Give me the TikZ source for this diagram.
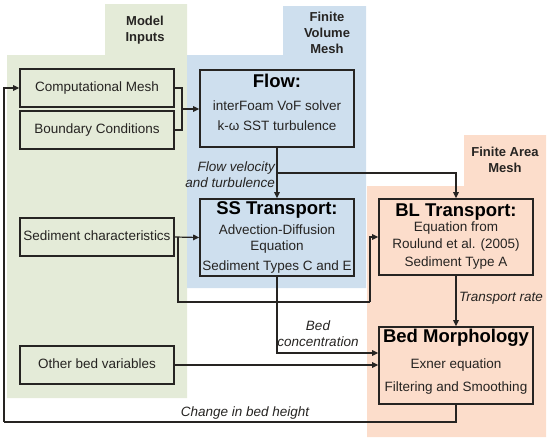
\documentclass[tikz,border=0pt]{standalone}
\usepackage{fontspec}
\setmainfont{Liberation Sans}
\usetikzlibrary{arrows.meta,calc}
\definecolor{grn}{RGB}{228,235,216}
\definecolor{blu}{RGB}{206,223,238}
\definecolor{org}{RGB}{252,221,203}
\definecolor{ink}{RGB}{38,36,34}
\begin{document}
\begin{tikzpicture}[x=1pt,y=-1pt,
  box/.style={draw=ink,line width=1.6pt,minimum width=154pt,inner sep=0pt,anchor=center},
  small/.style={box,minimum height=38pt},
  big/.style={box,minimum height=77pt},
  body/.style={font=\fontsize{13.5}{16}\selectfont,text=ink,inner sep=0pt,text height=9.7pt,text depth=2.8pt,anchor=center},
  ttl/.style={font=\fontsize{18.5}{20}\selectfont\bfseries,text=black,inner sep=0pt,text height=13.3pt,text depth=3.8pt,anchor=center},
  grp/.style={font=\fontsize{13}{16}\selectfont\bfseries,text=ink,inner sep=0pt,align=center,anchor=center},
  lbl/.style={font=\fontsize{13.5}{16}\selectfont\itshape,text=ink,inner sep=0pt},
  conn/.style={draw=ink,line width=1.2pt},
  arr/.style={conn,-{Triangle[length=6pt,width=5.5pt]}}
]
\useasboundingbox (0,0) rectangle (550,442);
% background regions
\fill[grn] (7,55) -- (105,55) -- (105,4) -- (187,4) -- (187,398) -- (7,398) -- cycle;
\fill[blu] (187,55) -- (283,55) -- (283,6) -- (366,6) -- (366,288) -- (187,288) -- cycle;
\fill[org] (367,186) -- (464,186) -- (464,135) -- (546,135) -- (546,437) -- (367,437) -- cycle;
% group labels
\node[grp] (gmi) at (145,30) {Model\\Inputs};
\node[grp] (gfv) at (327,33) {Finite\\Volume\\Mesh};
\node[grp] (gfa) at (505,160) {Finite Area\\Mesh};
% input boxes
\node[small] (cm) at (97,88) {};
\node[body] (tcm) at (cm) {Computational Mesh};
\node[small] (bc) at (97,130) {};
\node[body] (tbc) at (bc) {Boundary Conditions};
\node[small] (sc) at (97,237) {};
\node[body] (tsc) at (sc) {Sediment characteristics};
\node[small] (ob) at (97,365) {};
\node[body] (tob) at (ob) {Other bed variables};
% Flow
\node[big] (flow) at (277,108.5) {};
\node[ttl] (tf1) at (277,83) {Flow:};
\node[body] (tf2) at (277,107) {interFoam VoF solver};
\node[body] (tf3) at (277,127) {k-ω SST turbulence};
% SS Transport
\node[big] (ss) at (277,237.5) {};
\node[ttl] (ts1) at (277,210) {SS Transport:};
\node[body] (ts2) at (277,231) {Advection-Diffusion};
\node[body] (ts3) at (277,247) {Equation};
\node[body] (ts4) at (277,267) {Sediment Types C and E};
% BL Transport
\node[box,minimum height=76pt] (bl) at (456,237) {};
\node[ttl] (tb1) at (456,212) {BL Transport:};
\node[body] (tb2) at (456,228.5) {Equation from};
\node[body] (tb3) at (456,245.5) {Roulund et al. (2005)};
\node[body] (tb4) at (456,263) {Sediment Type A};
% Bed Morphology
\node[big] (bm) at (456,365.5) {};
\node[ttl] (tm1) at (456,338) {Bed Morphology};
\node[body] (tm2) at (456,365) {Exner equation};
\node[body] (tm3) at (456,388) {Filtering and Smoothing};
% junction coordinates
\coordinate (j1) at (182,109);
\coordinate (j2) at (277,173);
\coordinate (j3) at (178,237);
\coordinate (j4) at (370,302);
\coordinate (j5) at (4,422);
% connectors
\draw[conn] (cm.east) -| (j1);
\draw[conn] (bc.east) -| (j1);
\draw[arr] (j1) -- (j1 -| flow.west);
\draw[arr] (flow.south) -- (ss.north);
\draw[arr] (j2) -| (bl.north);
\draw[arr] (sc.east) -- (ss.west);
\draw[conn] (j3) |- (j4);
\draw[arr] (j4) |- (bl.west);
\draw[arr] (ss.south) |- ([yshift=12.5pt]bm.west);
\draw[arr] (ob.east) -- (ob.east -| bm.west);
\draw[arr] (bl.south) -- (bm.north);
\draw[conn] (bm.south) |- (j5);
\draw[arr] (j5) |- (cm.west);
% labels
\node[lbl,align=right,anchor=east] (lfv) at (275,175) {Flow velocity\\and turbulence};
\node[lbl,align=center] (lbc) at (318,334) {Bed\\concentration};
\node[lbl,anchor=west] (ltr) at (459,298) {Transport rate};
\node[lbl] (lch) at (245,413) {Change in bed height};
\end{tikzpicture}
\end{document}
